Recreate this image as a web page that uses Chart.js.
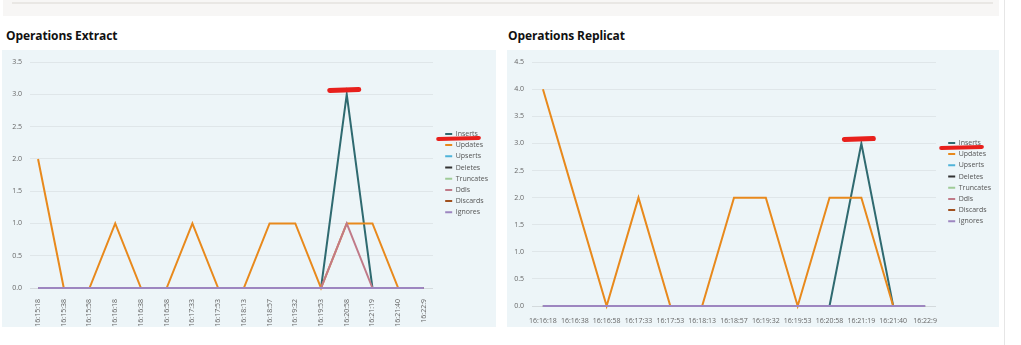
<!DOCTYPE html>
<html>
<head>
<meta charset="utf-8">
<script src="https://cdn.jsdelivr.net/npm/chart.js@4"></script>
<style>
  body { margin: 0; background: #fff; width: 1021px; height: 345px; overflow: hidden; position: relative; font-family: "Open Sans", sans-serif; }
  .topcard { position: absolute; left: 3px; top: 0; width: 996px; height: 16px; background: #f7f6f5; }
  .topcard .line { position: absolute; left: 9px; right: 6px; top: 2px; height: 2px; background: #e9e7e4; }
  .vline { position: absolute; left: 1004px; top: 0; width: 1px; height: 345px; background: #e6e6e6; }
  .title { position: absolute; top: 27px; font-weight: 700; font-size: 12px; color: #111; letter-spacing: -0.1px; }
  .panel { position: absolute; top: 50px; height: 277px; background: #edf5f8; }
</style>
</head>
<body>
<div class="topcard"><div class="line"></div></div>
<div class="vline"></div>
<div class="title" style="left:6px">Operations Extract</div>
<div class="title" style="left:508px">Operations Replicat</div>
<div class="panel" style="left:2px;width:494px"><canvas id="extractChart" width="494" height="277"></canvas></div>
<div class="panel" style="left:507px;width:492px"><canvas id="replicatChart" width="492" height="277"></canvas></div>

<script>
// series names and colours
var seriesNames = ['Inserts', 'Updates', 'Upserts', 'Deletes', 'Truncates', 'Ddls', 'Discards', 'Ignores'];
var seriesColors = ['#2f6a70', '#e8891c', '#4fb3d9', '#333333', '#9fcb98', '#c07a88', '#a0501e', '#9d86c0'];

// Operations Extract
var extractLabels = ['16:15:18', '16:15:38', '16:15:58', '16:16:18', '16:16:38', '16:16:58', '16:17:33', '16:17:53',
                     '16:18:13', '16:18:57', '16:19:32', '16:19:53', '16:20:58', '16:21:19', '16:21:40', '16:22:9'];
var extractInserts   = [0, 0, 0, 0, 0, 0, 0, 0, 0, 0, 0, 0, 3, 0, 0, 0];
var extractUpdates   = [2, 0, 0, 1, 0, 0, 1, 0, 0, 1, 1, 0, 1, 1, 0, 0];
var extractUpserts   = [0, 0, 0, 0, 0, 0, 0, 0, 0, 0, 0, 0, 0, 0, 0, 0];
var extractDeletes   = [0, 0, 0, 0, 0, 0, 0, 0, 0, 0, 0, 0, 0, 0, 0, 0];
var extractTruncates = [0, 0, 0, 0, 0, 0, 0, 0, 0, 0, 0, 0, 0, 0, 0, 0];
var extractDdls      = [0, 0, 0, 0, 0, 0, 0, 0, 0, 0, 0, 0, 1, 0, 0, 0];
var extractDiscards  = [0, 0, 0, 0, 0, 0, 0, 0, 0, 0, 0, 0, 0, 0, 0, 0];
var extractIgnores   = [0, 0, 0, 0, 0, 0, 0, 0, 0, 0, 0, 0, 0, 0, 0, 0];

// Operations Replicat
var replicatLabels = ['16:16:18', '16:16:38', '16:16:58', '16:17:33', '16:17:53', '16:18:13', '16:18:57',
                      '16:19:32', '16:19:53', '16:20:58', '16:21:19', '16:21:40', '16:22:9'];
var replicatInserts   = [0, 0, 0, 0, 0, 0, 0, 0, 0, 0, 3, 0, 0];
var replicatUpdates   = [4, 2, 0, 2, 0, 0, 2, 2, 0, 2, 2, 0, 0];
var replicatUpserts   = [0, 0, 0, 0, 0, 0, 0, 0, 0, 0, 0, 0, 0];
var replicatDeletes   = [0, 0, 0, 0, 0, 0, 0, 0, 0, 0, 0, 0, 0];
var replicatTruncates = [0, 0, 0, 0, 0, 0, 0, 0, 0, 0, 0, 0, 0];
var replicatDdls      = [0, 0, 0, 0, 0, 0, 0, 0, 0, 0, 0, 0, 0];
var replicatDiscards  = [0, 0, 0, 0, 0, 0, 0, 0, 0, 0, 0, 0, 0];
var replicatIgnores   = [0, 0, 0, 0, 0, 0, 0, 0, 0, 0, 0, 0, 0];

var extractTicks = [0, 0.5, 1.0, 1.5, 2.0, 2.5, 3.0, 3.5];
var replicatTicks = [0, 0.5, 1.0, 1.5, 2.0, 2.5, 3.0, 3.5, 4.0, 4.5];

var tickFont = { family: 'Open Sans', size: 7 };

// legend sits a bit away from the plot and is centred on the plot area
// (the legend plugin recomputes its hit boxes right after this)
var legendPlugin = {
    id: 'legendPlace',
    afterLayout: function (chart) {
        var lg = chart.legend;
        var dx = chart.options.plugins.legendPlace.dx;
        lg.left += dx;
        lg.right += dx;
        lg.top = chart.chartArea.top - 4;
        lg.bottom = chart.chartArea.bottom;
    }
};

// red marker strokes over the Inserts peak and legend entry
var highlightPlugin = {
    id: 'highlight',
    afterDraw: function (chart) {
        var ctx = chart.ctx;
        var meta = chart.getDatasetMeta(0);
        var data = chart.data.datasets[0].data;
        var peak = 0;
        for (var i = 1; i < data.length; i++) {
            if (data[i].y > data[peak].y) peak = i;
        }
        var pt = meta.data[peak];
        ctx.save();
        ctx.strokeStyle = '#e8201c';
        ctx.lineCap = 'round';
        ctx.lineWidth = 5;
        ctx.beginPath();
        ctx.moveTo(pt.x - 17, pt.y - 4);
        ctx.lineTo(pt.x + 12, pt.y - 5);
        ctx.stroke();
        var box = chart.legend.legendHitBoxes[0];
        if (box) {
            ctx.font = '7px "Open Sans"';
            var textEnd = box.left + 7 + 3.5 + ctx.measureText(seriesNames[0]).width;
            ctx.lineWidth = 4;
            ctx.beginPath();
            ctx.moveTo(box.left - 7, box.top + box.height / 2 + 5);
            ctx.lineTo(textEnd + 1, box.top + box.height / 2 + 4);
            ctx.stroke();
        }
        ctx.restore();
    }
};

function buildChart(canvasId, labels, series, yTicks, opts) {
    var datasets = series.map(function (values, i) {
        return {
            label: seriesNames[i],
            data: values.map(function (v, j) { return { x: j, y: v }; }),
            borderColor: seriesColors[i],
            backgroundColor: seriesColors[i],
            borderWidth: 2,
            pointRadius: 0,
            tension: 0,
            clip: false,
            order: series.length - i
        };
    });
    var n = labels.length - 1;

    return new Chart(document.getElementById(canvasId).getContext('2d'), {
        type: 'line',
        data: { datasets: datasets },
        options: {
            responsive: false,
            animation: false,
            layout: { padding: opts.padding },
            plugins: {
                tooltip: { enabled: false },
                legendPlace: { dx: opts.legendDx },
                legend: {
                    position: 'right',
                    labels: {
                        font: { family: 'Open Sans', size: 7 },
                        color: '#555',
                        boxWidth: 7,
                        boxHeight: 2,
                        padding: 4.2,
                        sort: function (a, b) { return a.datasetIndex - b.datasetIndex; },
                        generateLabels: function (chart) {
                            return Chart.defaults.plugins.legend.labels.generateLabels(chart).map(function (l) {
                                l.lineWidth = 0;
                                return l;
                            });
                        }
                    }
                }
            },
            scales: {
                x: {
                    type: 'linear',
                    min: -opts.xPad,
                    max: n + opts.xPadR,
                    grid: { display: false },
                    border: { color: '#d4dadd' },
                    afterBuildTicks: function (scale) {
                        scale.ticks = labels.map(function (l, i) { return { value: i }; });
                    },
                    afterFit: function (scale) { scale.height = opts.xHeight; },
                    ticks: {
                        font: tickFont,
                        color: '#666',
                        autoSkip: false,
                        minRotation: opts.rotation,
                        maxRotation: opts.rotation,
                        padding: 3,
                        callback: function (v) { return labels[v]; }
                    }
                },
                y: {
                    min: 0,
                    max: yTicks[yTicks.length - 1],
                    grid: { color: '#dfe6e9', drawTicks: false },
                    border: { display: false },
                    afterBuildTicks: function (scale) {
                        scale.ticks = yTicks.map(function (v) { return { value: v }; });
                    },
                    afterFit: function (scale) { scale.width = opts.yWidth; },
                    ticks: {
                        font: tickFont,
                        color: '#666',
                        padding: 8,
                        callback: function (v) { return v.toFixed(1); }
                    }
                }
            }
        },
        plugins: [legendPlugin, highlightPlugin]
    });
}

buildChart('extractChart', extractLabels,
    [extractInserts, extractUpdates, extractUpserts, extractDeletes, extractTruncates, extractDdls, extractDiscards, extractIgnores],
    extractTicks,
    { padding: { top: 9, right: 6, left: 0, bottom: 0 }, xHeight: 39, yWidth: 28, rotation: 90, xPad: 0.313, xPadR: 0.353, legendDx: 8 });

buildChart('replicatChart', replicatLabels,
    [replicatInserts, replicatUpdates, replicatUpserts, replicatDeletes, replicatTruncates, replicatDdls, replicatDiscards, replicatIgnores],
    replicatTicks,
    { padding: { top: 9, right: 6, left: 0, bottom: 0 }, xHeight: 21, yWidth: 25, rotation: 0, xPad: 0.344, xPadR: 0.344, legendDx: 8 });
</script>
</body>
</html>
